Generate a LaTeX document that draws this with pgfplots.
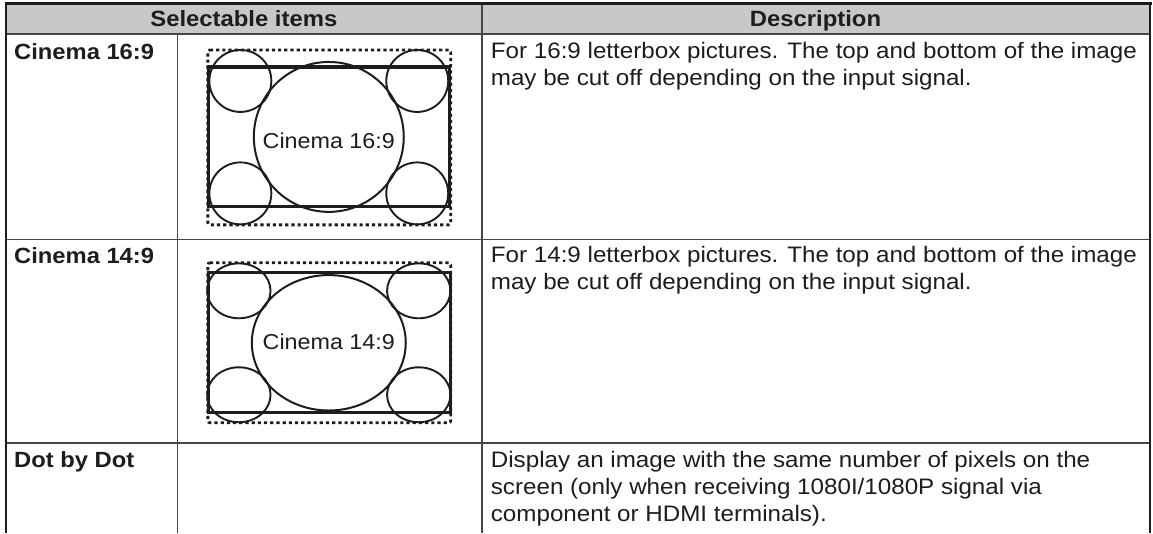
\documentclass[border=0pt]{standalone}
\usepackage{pgfplots}
\pgfplotsset{compat=1.18}
\usepackage{fontspec}
\setmainfont[FakeStretch=1.08]{Liberation Sans}
\definecolor{ink}{RGB}{30,28,28}
\definecolor{hdr}{RGB}{200,200,200}
\definecolor{gridc}{RGB}{70,70,70}
\begin{document}
\begin{tikzpicture}
\begin{axis}[scale only axis, width=1153pt, height=533pt,
  xmin=0, xmax=1153, ymin=0, ymax=533, y dir=reverse,
  hide axis, clip=false]
% background and header fill
\addplot[fill=white, draw=none] coordinates {(0,0)(1153,0)(1153,533)(0,533)} -- cycle;
\addplot[fill=hdr, draw=none] coordinates {(6,4)(1150,4)(1150,34.5)(6,34.5)} -- cycle;
% table rules
\addplot[gridc, line width=2pt] coordinates {(6,34.5)(1150,34.5)};
\addplot[gridc, line width=1.7pt] coordinates {(6,239.5)(1150,239.5)};
\addplot[gridc, line width=1.7pt] coordinates {(6,443.5)(1150,443.5)};
\addplot[gridc, line width=1.7pt] coordinates {(177.5,34.5)(177.5,533)};
\addplot[gridc, line width=1.7pt] coordinates {(482,3)(482,533)};
\addplot[ink, line width=3pt] coordinates {(4.8,3.8)(1152.2,3.8)};
\addplot[ink, line width=2.4pt] coordinates {(6,2.5)(6,533)};
\addplot[ink, line width=2.4pt] coordinates {(1150.8,2.5)(1150.8,533)};
% header text
\node[anchor=base, text=ink, font=\fontsize{22.1}{27}\selectfont\bfseries] at (axis cs:244,27) {Selectable items};
\node[anchor=base, text=ink, font=\fontsize{22.1}{27}\selectfont\bfseries] at (axis cs:816,27) {Description};
% first column
\node[anchor=base west, inner sep=0pt, text=ink, font=\fontsize{22}{27}\selectfont\bfseries] at (axis cs:14,59.5) {Cinema 16:9};
\node[anchor=base west, inner sep=0pt, text=ink, font=\fontsize{22}{27}\selectfont\bfseries] at (axis cs:14,263.5) {Cinema 14:9};
\node[anchor=base west, inner sep=0pt, text=ink, font=\fontsize{22}{27}\selectfont\bfseries] at (axis cs:14,468) {Dot by Dot};
% descriptions
\node[anchor=base west, inner sep=0pt, text=ink, font=\fontsize{22.4}{27}\selectfont] at (axis cs:491,58.5) {For 16:9 letterbox pictures. The top and bottom of the image};
\node[anchor=base west, inner sep=0pt, text=ink, font=\fontsize{22.4}{27}\selectfont] at (axis cs:491,85.5) {may be cut off depending on the input signal.};
\node[anchor=base west, inner sep=0pt, text=ink, font=\fontsize{22.4}{27}\selectfont] at (axis cs:491,263) {For 14:9 letterbox pictures. The top and bottom of the image};
\node[anchor=base west, inner sep=0pt, text=ink, font=\fontsize{22.4}{27}\selectfont] at (axis cs:491,290) {may be cut off depending on the input signal.};
\node[anchor=base west, inner sep=0pt, text=ink, font=\fontsize{22.4}{27}\selectfont] at (axis cs:491,468) {Display an image with the same number of pixels on the};
\node[anchor=base west, inner sep=0pt, text=ink, font=\fontsize{22.4}{27}\selectfont] at (axis cs:491,495) {screen (only when receiving 1080I/1080P signal via};
\node[anchor=base west, inner sep=0pt, text=ink, font=\fontsize{22.4}{27}\selectfont] at (axis cs:491,522) {component or HDMI terminals).};
% ---- Cinema 16:9 diagram ----
\addplot[ink, line width=2.8pt, dash pattern=on 3.2pt off 3pt, rounded corners=2pt] coordinates {(208,50)(451,50)(451,225)(208,225)} -- cycle;
\addplot[ink, line width=3.2pt] coordinates {(208.5,67)(450,67)(450,207)(208.5,207)} -- cycle;
\addplot[ink, only marks, mark=o, mark size=75, line width=2pt] coordinates {(329,137)};
\addplot[ink, only marks, mark=o, mark size=31, line width=1.9pt] coordinates {(240.5,81)(417.5,81)(240.5,193.5)(417.5,193.5)};
\node[anchor=base, text=ink, font=\fontsize{21.6}{27}\selectfont] at (axis cs:329,148.5) {Cinema 16:9};
% ---- Cinema 14:9 diagram ----
\addplot[ink, line width=2.8pt, dash pattern=on 3.2pt off 3pt, rounded corners=2pt] coordinates {(208,263)(451,263)(451,423)(208,423)} -- cycle;
\addplot[ink, line width=3.2pt] coordinates {(208.5,272.5)(450.5,272.5)(450.5,413)(208.5,413)} -- cycle;
\addplot[ink, only marks, mark=o, mark size=77, mark options={yscale=0.88}, line width=2pt] coordinates {(329,343)};
\addplot[ink, only marks, mark=o, mark size=31.7, mark options={yscale=0.867}, line width=1.9pt] coordinates {(239,291)(419,291)(239,395)(419,395)};
\node[anchor=base, text=ink, font=\fontsize{21.6}{27}\selectfont] at (axis cs:329,350) {Cinema 14:9};
\end{axis}
\end{tikzpicture}
\end{document}
